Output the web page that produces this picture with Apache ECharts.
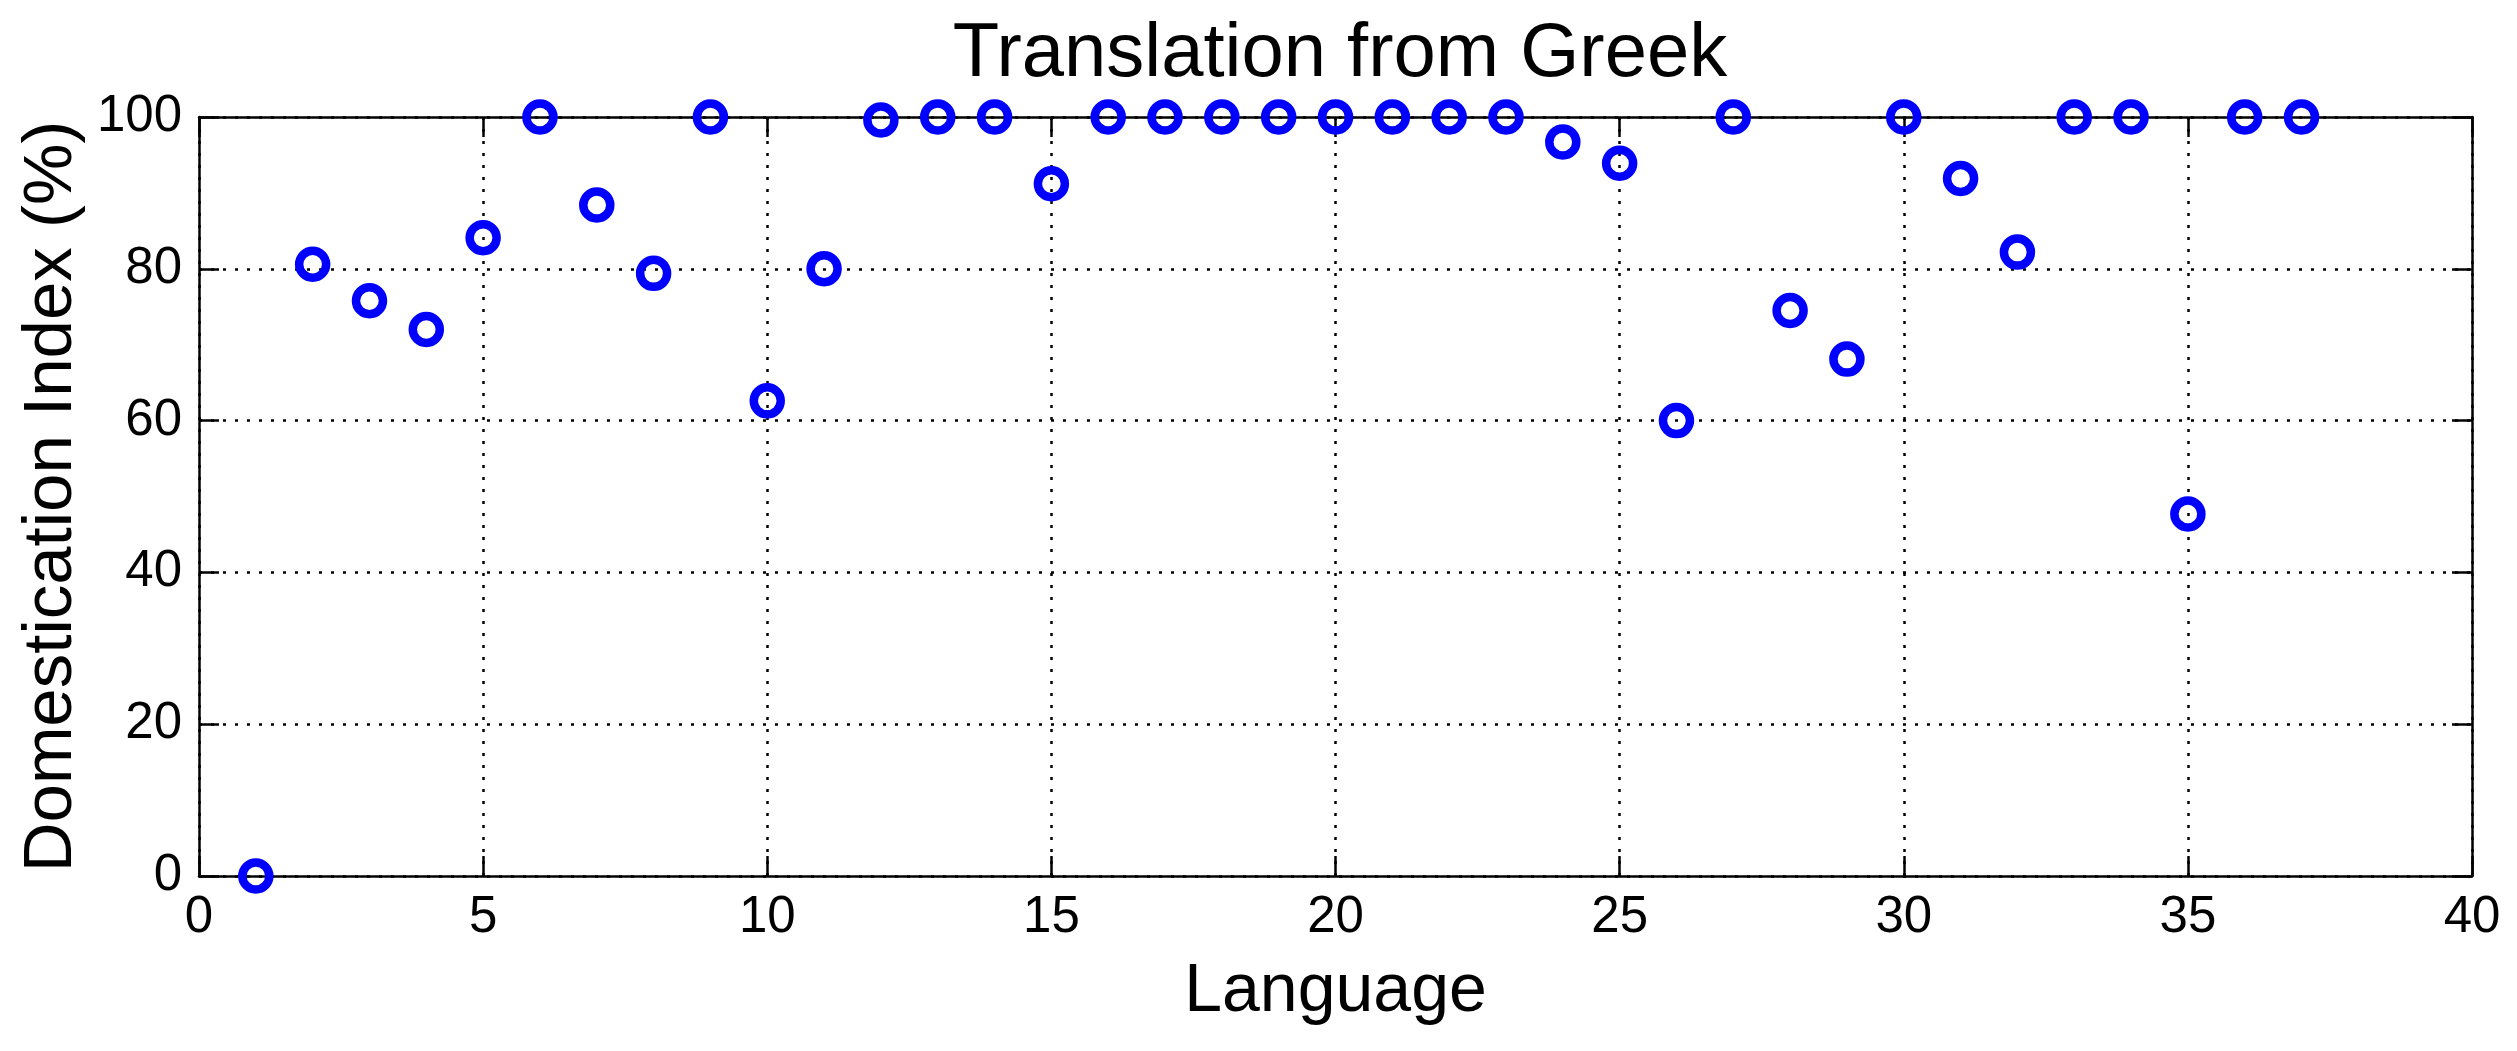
<!DOCTYPE html>
<html>
<head>
<meta charset="utf-8">
<script src="https://cdn.jsdelivr.net/npm/echarts@6/dist/echarts.min.js"></script>
<style>
  html, body { margin: 0; padding: 0; background: #fff; }
  #chart { width: 2517px; height: 1051px; }
</style>
</head>
<body>
<div id="chart"></div>
<script>
// language index on x, domestication index (%) on y
var languages = [1, 2, 3, 4, 5, 6, 7, 8, 9, 10, 11, 12, 13, 14, 15, 16, 17, 18, 19,
  20, 21, 22, 23, 24, 25, 26, 27, 28, 29, 30, 31, 32, 33, 34, 35, 36, 37];
var domestication = [0, 80.6, 75.8, 72.0, 84.1, 100, 88.4, 79.4, 100, 62.6, 80.0, 99.6,
  100, 100, 91.2, 100, 100, 100, 100, 100, 100, 100, 100, 96.7, 93.9, 60.0, 100,
  74.5, 68.1, 100, 91.9, 82.2, 100, 100, 47.7, 100, 100];

var xTicks = { min: 0, max: 40, interval: 5 };
var yTicks = { min: 0, max: 100, interval: 20 };

var chart = echarts.init(document.getElementById("chart"));

var points = [];
for (var i = 0; i < languages.length; i++) {
  points.push([languages[i], domestication[i]]);
}

var font = "Liberation Sans, Arial, Helvetica, sans-serif";
var gridDots = { color: "#000", width: 2.5, type: [3, 9] };
var frame = { show: true, onZero: false, lineStyle: { color: "#000", width: 2.5 } };
var inTicks = { show: true, inside: true, length: 20, lineStyle: { color: "#000", width: 2.5 } };

var option = {
  backgroundColor: "#fff",
  animation: false,
  title: {
    text: "Translation from Greek",
    left: 1335,
    textAlign: "center",
    top: 12,
    textStyle: { fontFamily: font, fontSize: 76, fontWeight: "normal", color: "#000" }
  },
  grid: { left: 199, right: 45, top: 117, bottom: 175 },
  xAxis: [{
    type: "value",
    min: xTicks.min, max: xTicks.max, interval: xTicks.interval,
    name: "Language",
    nameLocation: "middle",
    nameGap: 82,
    nameTextStyle: { fontFamily: font, fontSize: 68, color: "#000" },
    axisLine: frame,
    axisTick: inTicks,
    axisLabel: { fontFamily: font, fontSize: 51, color: "#000", margin: 16 },
    splitLine: { show: true, lineStyle: gridDots }
  }, {
    type: "value", position: "top",
    min: xTicks.min, max: xTicks.max, interval: xTicks.interval,
    axisLine: frame, axisTick: inTicks,
    axisLabel: { show: false }, splitLine: { show: false }
  }],
  yAxis: [{
    type: "value",
    min: yTicks.min, max: yTicks.max, interval: yTicks.interval,
    name: "Domestication Index (%)",
    nameLocation: "middle",
    nameGap: 108,
    nameTextStyle: { fontFamily: font, fontSize: 69, color: "#000" },
    axisLine: frame,
    axisTick: inTicks,
    axisLabel: { fontFamily: font, fontSize: 51, color: "#000", margin: 17 },
    splitLine: { show: true, lineStyle: gridDots }
  }, {
    type: "value", position: "right",
    min: yTicks.min, max: yTicks.max, interval: yTicks.interval,
    axisLine: frame, axisTick: inTicks,
    axisLabel: { show: false }, splitLine: { show: false }
  }],
  series: [{
    type: "scatter",
    data: points,
    clip: false,
    symbol: "circle",
    symbolSize: 27,
    itemStyle: { color: "rgba(0,0,0,0)", borderColor: "#0000ff", borderWidth: 8.5, opacity: 1 }
  }]
};

chart.setOption(option);
</script>
</body>
</html>
